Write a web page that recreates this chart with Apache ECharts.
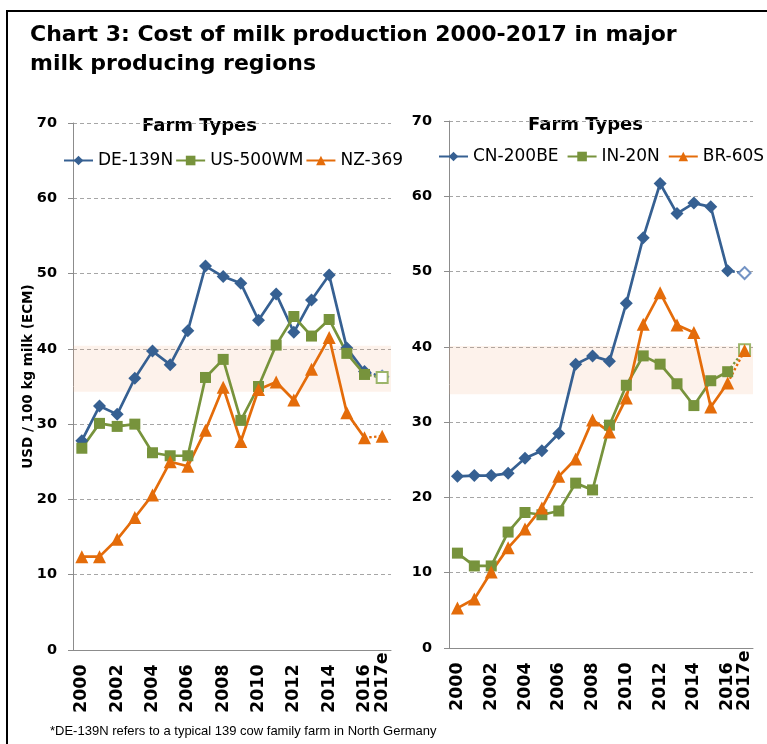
<!DOCTYPE html>
<html><head><meta charset="utf-8">
<script src="https://cdn.jsdelivr.net/npm/echarts@6/dist/echarts.min.js"></script>
<style>html,body{margin:0;padding:0;background:#fff}#c{width:767px;height:744px}</style>
</head><body><div id="c"></div>
<script>
// ---------- data ----------
const years = ['2000','2001','2002','2003','2004','2005','2006','2007','2008','2009','2010','2011','2012','2013','2014','2015','2016','2017e'];
const yTicks = [0, 70, 10]; // min, max, interval

const de139n = [27.8, 32.4, 31.3, 36.1, 39.7, 37.9, 42.4, 51.0, 49.6, 48.7, 43.8, 47.3, 42.2, 46.5, 49.8, 40.1, 37.0, 36.3];
const us500wm = [26.8, 30.1, 29.7, 30.0, 26.2, 25.8, 25.8, 36.2, 38.6, 30.5, 35.0, 40.5, 44.3, 41.7, 43.9, 39.4, 36.6, 36.2];
const nz369 = [12.4, 12.4, 14.7, 17.6, 20.6, 25.0, 24.4, 29.2, 34.9, 27.7, 34.6, 35.6, 33.2, 37.3, 41.5, 31.5, 28.2, 28.4];

const cn200be = [22.8, 22.9, 22.9, 23.2, 25.2, 26.2, 28.5, 37.7, 38.8, 38.1, 45.8, 54.5, 61.7, 57.7, 59.1, 58.6, 50.1, 49.8];
const in20n = [12.6, 10.9, 10.9, 15.4, 18.0, 17.7, 18.2, 21.9, 21.0, 29.6, 34.9, 38.8, 37.7, 35.1, 32.2, 35.5, 36.7, 39.6];
const br60s = [5.3, 6.5, 10.1, 13.3, 15.8, 18.6, 22.8, 25.1, 30.3, 28.7, 33.2, 43.0, 47.2, 42.9, 41.9, 32.0, 35.2, 39.5];

const bandLeft = [34.3, 40.4];
const bandRight = [33.7, 40.1];

const namesLeft = ['DE-139N', 'US-500WM', 'NZ-369'];
const namesRight = ['CN-200BE', 'IN-20N', 'BR-60S'];

// ---------- styles ----------
const BLUE = '#366092', GREEN = '#77933C', ORANGE = '#E46C0A';
const BLUE_L = '#7393c4', GREEN_L = '#9cb56a';
const styles = [
  {color: BLUE, symbol: 'diamond', size: 13, est: 'emptyDiamond', estColor: BLUE_L, estSize: 12},
  {color: GREEN, symbol: 'rect', size: 11, est: 'emptyRect', estColor: GREEN_L, estSize: 11},
  {color: ORANGE, symbol: 'triangle', size: 13, est: 'triangle', estColor: ORANGE, estSize: 13}
];
const LAST = years.length - 1;

function makeSeries(name, vals, st, idx, band) {
  const main = {
    name: name, type: 'line', xAxisIndex: idx, yAxisIndex: idx,
    data: vals.slice(0, LAST),
    symbol: st.symbol, symbolSize: st.size, showAllSymbol: true,
    lineStyle: {color: st.color, width: 2.7},
    itemStyle: {color: st.color},
    z: 3
  };
  if (band) {
    main.markArea = {silent: true, itemStyle: {color: 'rgba(240,170,120,0.15)'},
      data: [[{yAxis: band[0]}, {yAxis: band[1]}]]};
  }
  const est = {
    name: name + ' (e)', type: 'line', xAxisIndex: idx, yAxisIndex: idx,
    data: vals.map((v, i) => {
      if (i < LAST - 1) return null;
      if (i === LAST - 1) return {value: v, symbol: 'none'};
      return {value: v};
    }),
    symbol: st.est, symbolSize: st.estSize, showAllSymbol: true,
    lineStyle: {color: st.color, width: 2.4, type: 'dotted'},
    itemStyle: {color: st.estColor, borderWidth: 1},
    z: 2
  };
  return [main, est];
}

const series = [].concat(
  makeSeries(namesLeft[0], de139n, styles[0], 0, bandLeft),
  makeSeries(namesLeft[1], us500wm, styles[1], 0),
  makeSeries(namesLeft[2], nz369, styles[2], 0),
  makeSeries(namesRight[0], cn200be, styles[0], 1, bandRight),
  makeSeries(namesRight[1], in20n, styles[1], 1),
  makeSeries(namesRight[2], br60s, styles[2], 1)
);

const AXIS_GREY = '#8c8c8c';
function xAxis(idx) {
  return {
    type: 'category', gridIndex: idx, data: years, boundaryGap: true,
    axisLine: {lineStyle: {color: AXIS_GREY, width: 1}},
    axisTick: {interval: 0, length: 5, lineStyle: {color: AXIS_GREY}},
    axisLabel: {
      interval: 0,
      formatter: (v, i) => (i % 2 === 0 || i === LAST) ? v : '',
      hideOverlap: false, showMaxLabel: true, showMinLabel: true,
      rotate: 90, align: 'left', margin: 63,
      fontFamily: 'DejaVu Sans', fontWeight: 'bold', fontSize: 17.5, color: '#000'
    },
    splitLine: {show: false}
  };
}
function yAxis(idx, margin) {
  return {
    type: 'value', gridIndex: idx, min: yTicks[0], max: yTicks[1], interval: yTicks[2],
    axisLine: {show: true, lineStyle: {color: AXIS_GREY, width: 1}},
    axisTick: {show: true, length: 5, lineStyle: {color: AXIS_GREY}},
    axisLabel: {margin: margin, fontFamily: 'DejaVu Sans', fontWeight: 'bold', fontSize: 14.5, color: '#000'},
    splitLine: {show: true, lineStyle: {color: '#a6a6a6', type: [4, 3], width: 1}}
  };
}

const legendText = {fontFamily: 'DejaVu Sans', fontSize: 17, color: '#000'};
const option = {
  animation: false,
  backgroundColor: '#fff',
  grid: [
    {left: 73, top: 123, width: 318, height: 527},
    {left: 449, top: 121, width: 304, height: 527}
  ],
  xAxis: [xAxis(0), xAxis(1)],
  yAxis: [yAxis(0, 16), yAxis(1, 17)],
  legend: [
    {data: namesLeft, left: 63, top: 152, padding: 0, itemWidth: 29, itemHeight: 12, itemGap: 2, textStyle: legendText},
    {data: namesRight, left: 438, top: 148, padding: 0, itemWidth: 29, itemHeight: 12, itemGap: 8, textStyle: legendText}
  ],
  series: series,
  graphic: [
    {type: 'rect', shape: {x: 7, y: 11, width: 820, height: 800}, style: {fill: null, stroke: '#000', lineWidth: 2}, silent: true},
    {type: 'text', x: 30, y: 35, style: {text: 'Chart 3: Cost of milk production 2000-2017 in major', font: 'bold 22px "DejaVu Sans"', fill: '#000', textVerticalAlign: 'middle'}},
    {type: 'text', x: 30, y: 64, style: {text: 'milk producing regions', font: 'bold 22px "DejaVu Sans"', fill: '#000', textVerticalAlign: 'middle'}},
    {type: 'text', x: 199.5, y: 126.5, style: {text: 'Farm Types', font: 'bold 18px "DejaVu Sans"', fill: '#000', textAlign: 'center', textVerticalAlign: 'middle'}},
    {type: 'text', x: 585.5, y: 125.5, style: {text: 'Farm Types', font: 'bold 18px "DejaVu Sans"', fill: '#000', textAlign: 'center', textVerticalAlign: 'middle'}},
    {type: 'text', x: 28, y: 376.5, rotation: Math.PI / 2, style: {text: 'USD / 100 kg milk (ECM)', font: 'bold 13.5px "DejaVu Sans"', fill: '#000', textAlign: 'center', textVerticalAlign: 'middle'}},
    {type: 'text', x: 50, y: 731, style: {text: '*DE-139N refers to a typical 139 cow family farm in North Germany', font: '13px "Liberation Sans"', fill: '#000', textVerticalAlign: 'middle'}}
  ]
};
const chart = echarts.init(document.getElementById('c'), null, {renderer: 'canvas'});
chart.setOption(option);
</script>
</body></html>
